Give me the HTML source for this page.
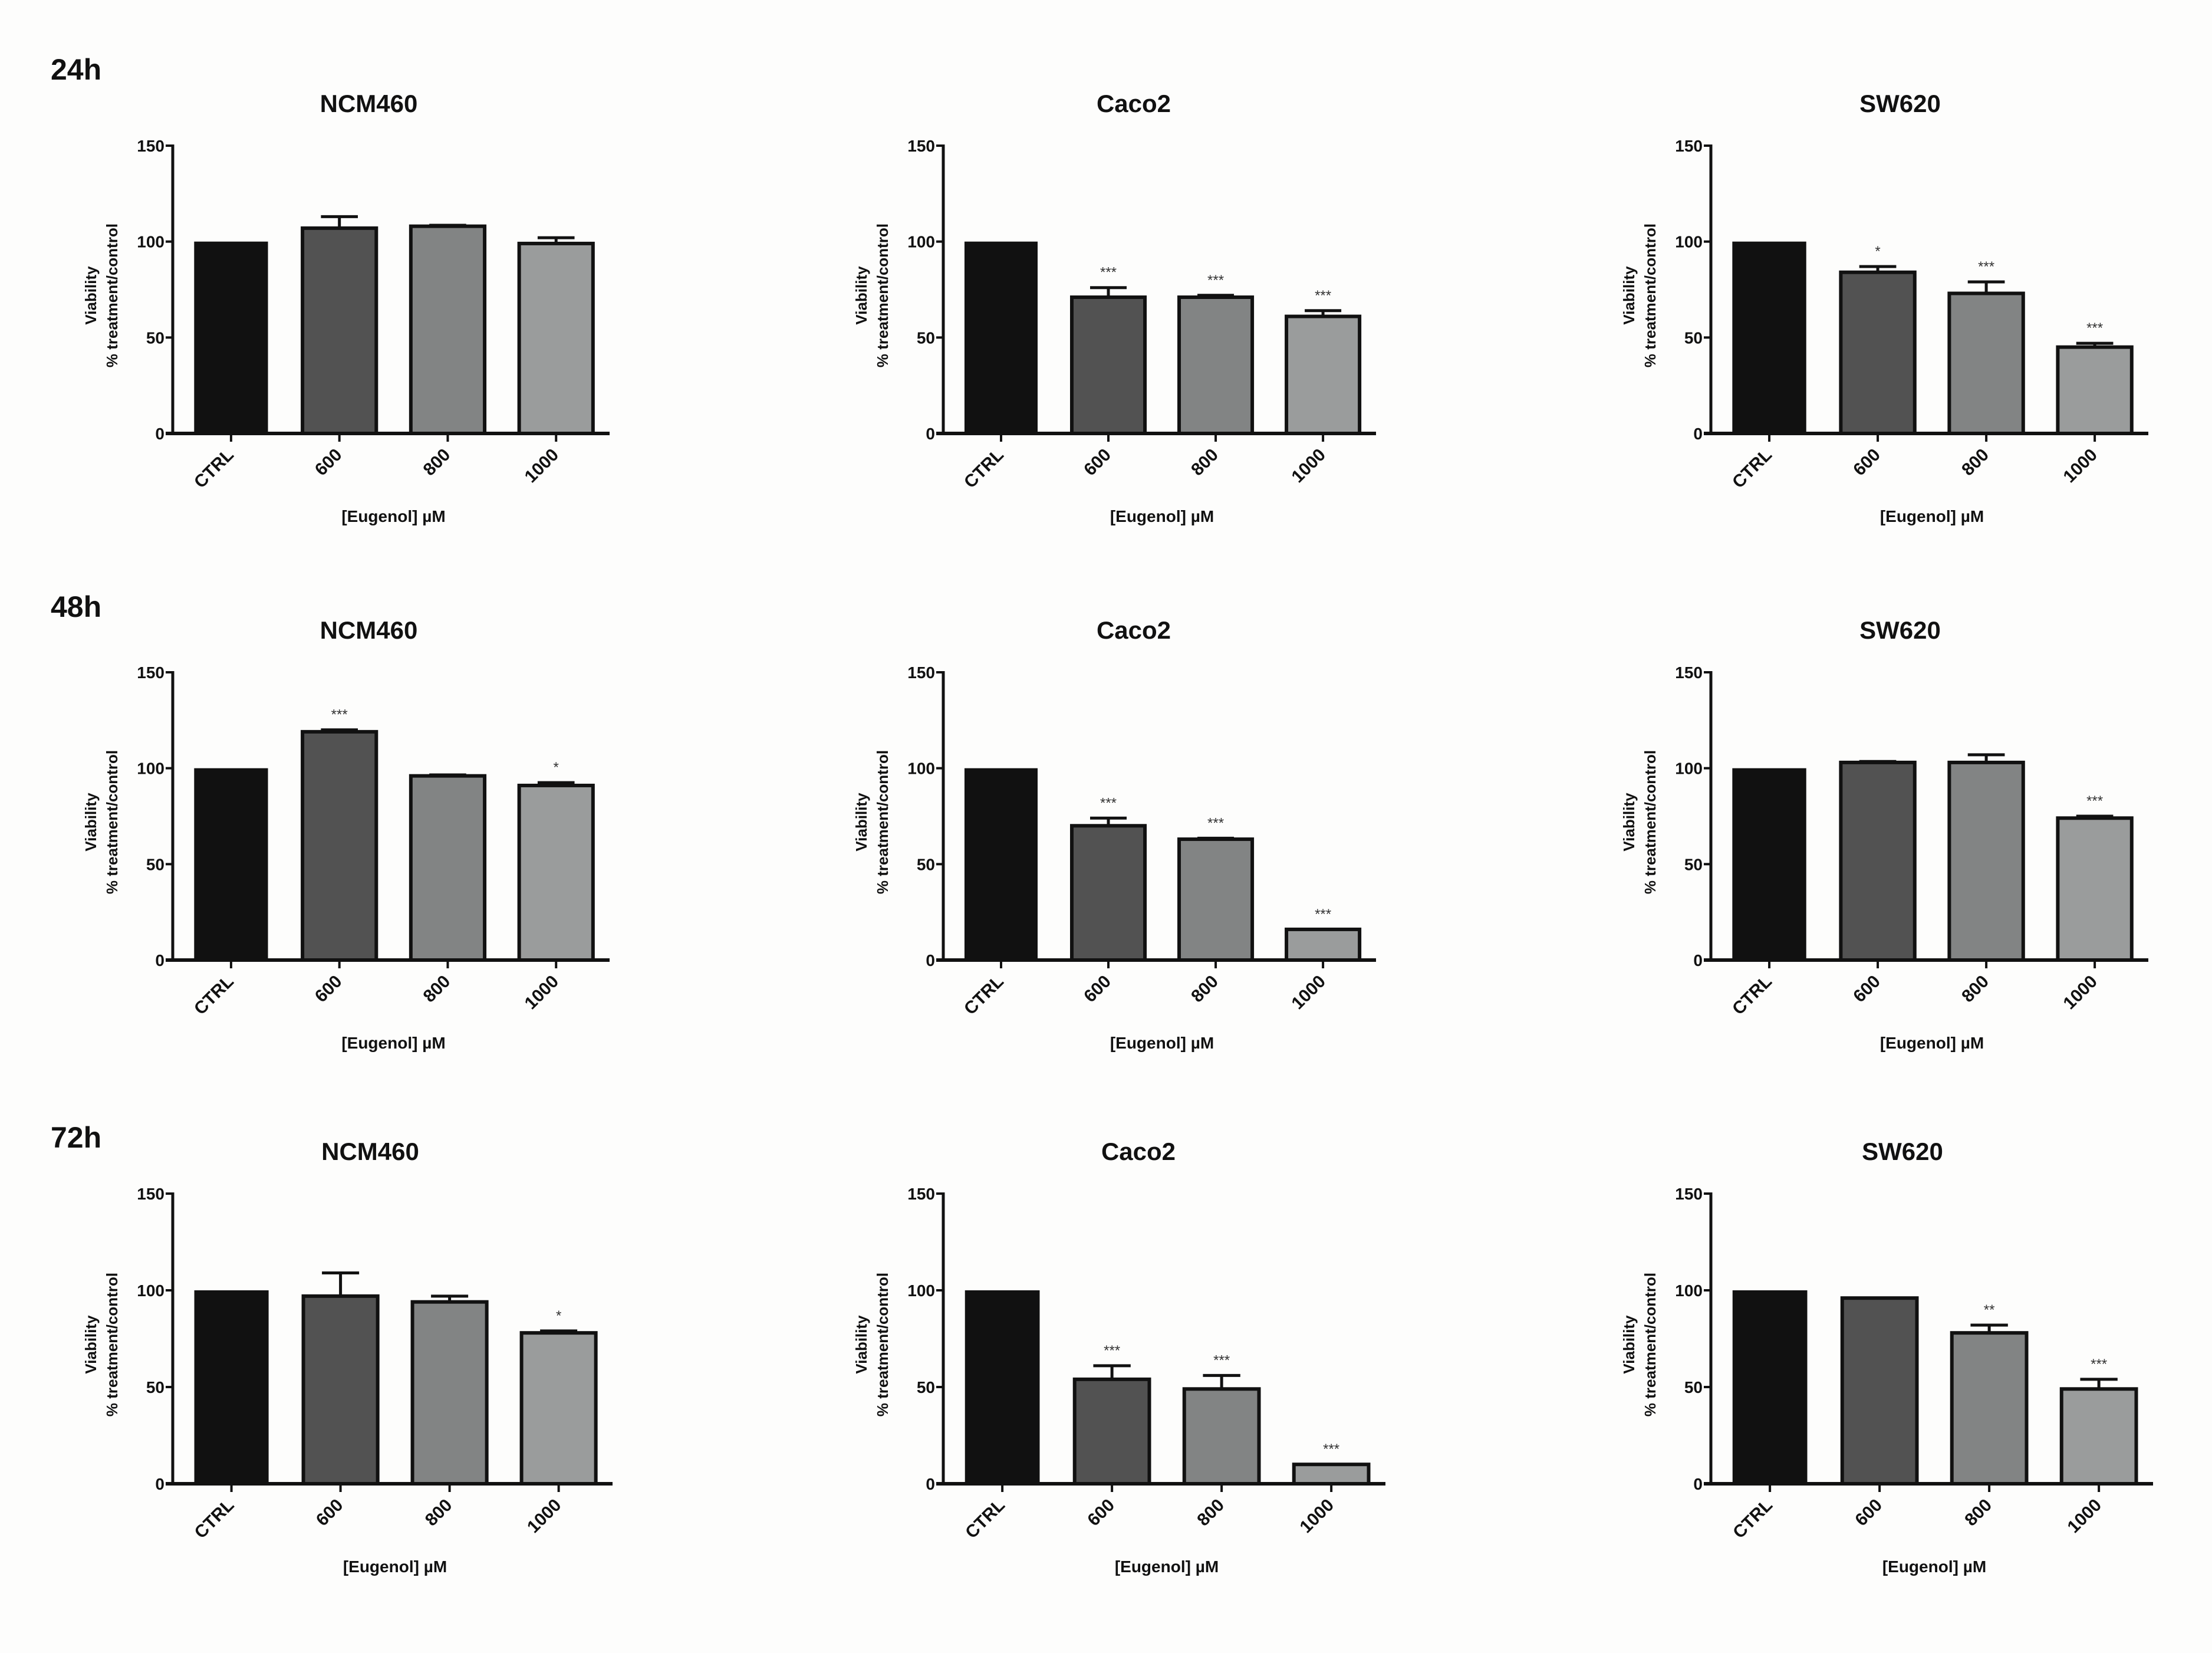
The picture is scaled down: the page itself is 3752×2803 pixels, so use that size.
<!DOCTYPE html>
<html><head><meta charset="utf-8"><style>
html,body{margin:0;padding:0;background:#fdfdfc;}
svg{display:block;font-family:"Liberation Sans",Arial,sans-serif;font-weight:bold;}
</style></head><body>
<svg id="fig" width="3752" height="2803" viewBox="0 0 3752 2803" xmlns="http://www.w3.org/2000/svg">
<rect width="3752" height="2803" fill="#fdfdfc"/>
</svg>
<script>
const categories = ["CTRL", "600", "800", "1000"];
const yTicks = [0, 50, 100, 150];
const timeLabels = ["24h", "48h", "72h"];
const cellLines = ["NCM460", "Caco2", "SW620"];
// values[row][col]
const values24 = [[100,107,108,99],[100,71,71,61],[100,84,73,45]];
const values48 = [[100,119,96,91],[100,70,63,16],[100,103,103,74]];
const values72 = [[100,97,94,78],[100,54,49,10],[100,96,78,49]];
const errors24 = [[0,6,0.5,3],[0,5,1,3],[0,3,6,2]];
const errors48 = [[0,1,0.5,1.5],[0,4,0.5,0],[0,0.5,4,1]];
const errors72 = [[0,12,3,1],[0,7,7,0],[0,0,4,5]];
const stars24 = [["","","",""],["","***","***","***"],["","*","***","***"]];
const stars48 = [["","***","","*"],["","***","***","***"],["","","","***"]];
const stars72 = [["","","","*"],["","***","***","***"],["","","**","***"]];

const allValues = [values24, values48, values72];
const allErrors = [errors24, errors48, errors72];
const allStars = [stars24, stars48, stars72];
const fills = ["#111111", "#525252", "#828484", "#9a9c9c"];
const NS = "http://www.w3.org/2000/svg";
const svg = document.getElementById("fig");
const colX = [[293,1600,2902],[293,1600,2902],[293,1600,2902]];
const colEnd = [[1034,2334,3644],[1034,2334,3644],[1039,2350,3652]];
const titleOff = [-38, -44, -50];
const rowY0 = [735, 1628, 2516];
const rowY150 = [247, 1140, 2024];
const timeY = [135, 1046, 1946];

function el(tag, attrs, parent) {
  const e = document.createElementNS(NS, tag);
  for (const k in attrs) e.setAttribute(k, attrs[k]);
  (parent || svg).appendChild(e);
  return e;
}

timeLabels.forEach((t, r) => {
  const tl = el("text", {x: 86, y: timeY[r], "font-size": 50, fill: "#111"});
  
  
  tl.textContent = t;
});

for (let r = 0; r < 3; r++) {
  for (let c = 0; c < 3; c++) {
    const g = el("g", {});
    
    
    const x0 = colX[r][c], x1 = colEnd[r][c], y0 = rowY0[r], y150 = rowY150[r];
    const L = x1 - x0;
    const yS = v => y0 - (v / 150) * (y0 - y150);
    const barLeft = i => x0 + L * 0.049 + i * L * 0.248;
    const bw = L * 0.169;
    const title = el("text", {x: x0 + L / 2 + titleOff[c], y: y150 - 57, "font-size": 42, "text-anchor": "middle", fill: "#111"}, g);
    
    
    title.textContent = cellLines[c];
    const vals = allValues[r][c], errs = allErrors[r][c], st = allStars[r][c];
    vals.forEach((v, i) => {
      const bx = barLeft(i), cx = bx + bw / 2;
      const top = yS(v);
      if (errs[i] > 0) {
        const et = yS(v + errs[i]);
        const eb = el("path", {d: `M${cx} ${top} V${et} M${cx - bw * 0.25} ${et} H${cx + bw * 0.25}`, stroke: "#111", "stroke-width": 5, fill: "none"}, g);
        
        
      }
      const b = el("rect", {x: bx, y: top, width: bw, height: y0 - top, fill: fills[i], stroke: "#111", "stroke-width": i === 0 ? 0 : 6}, g);
      
      
      if (st[i]) {
        const s = el("text", {x: cx, y: yS(v + errs[i]) - 18, "font-size": 24, "text-anchor": "middle", fill: "#333", "font-weight": "normal"}, g);
        
        
        s.textContent = st[i];
      }
      const tk = el("line", {x1: cx, y1: y0, x2: cx, y2: y0 + 14, stroke: "#111", "stroke-width": 4}, g);
      
      
      const tlx = cx + 6, tly = y0 + 38;
      const lbl = el("text", {x: tlx, y: tly, "font-size": 30, "text-anchor": "end", fill: "#111", transform: `rotate(-45 ${tlx} ${tly})`}, g);
      
      
      lbl.textContent = categories[i];
    });
    const ya = el("line", {x1: x0, y1: y150 - 2, x2: x0, y2: y0 + 3, stroke: "#111", "stroke-width": 5}, g);
    
    
    const xa = el("line", {x1: x0 - 12, y1: y0, x2: x1, y2: y0, stroke: "#111", "stroke-width": 6}, g);
    
    
    yTicks.forEach(t => {
      const yy = yS(t);
      const tk = el("line", {x1: x0 - 12, y1: yy, x2: x0, y2: yy, stroke: "#111", "stroke-width": 4}, g);
      
      
      const tl = el("text", {x: x0 - 14, y: yy + 10, "font-size": 28, "text-anchor": "end", fill: "#111"}, g);
      
      
      tl.textContent = t;
    });
    const ym = (y0 + y150) / 2 + 10;
    const yt = el("text", {transform: `translate(${x0 - 130} ${ym}) rotate(-90)`, "font-size": 26, "text-anchor": "middle", fill: "#111"}, g);
    
    
    const t1 = el("tspan", {x: 0, y: 0}, yt); t1.textContent = "Viability";
    const t2 = el("tspan", {x: 0, y: 36}, yt); t2.textContent = "% treatment/control";
    const xt = el("text", {x: x0 + L / 2 + 4, y: y0 + 150, "font-size": 28, "text-anchor": "middle", fill: "#111"}, g);
    
    
    xt.textContent = "[Eugenol] µM";
  }
}
</script>
</body></html>
